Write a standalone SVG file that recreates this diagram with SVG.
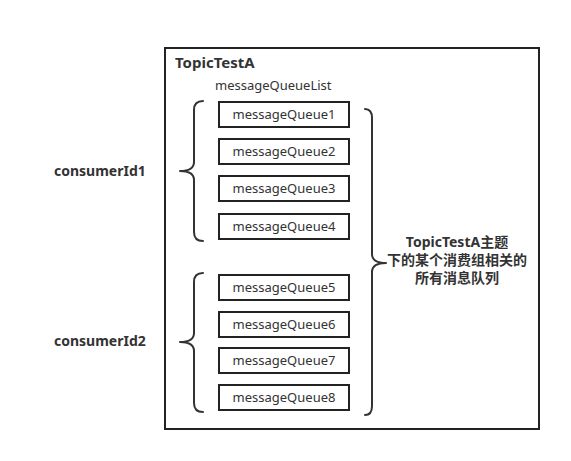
<svg xmlns="http://www.w3.org/2000/svg" width="571" height="461" viewBox="0 0 571 461">
<style>
.bg{fill:#fff}
.frame{fill:#fff;stroke:#222;stroke-width:2}
.box{fill:#fff;stroke:#222;stroke-width:2}
.brace{fill:none;stroke:#333;stroke-width:2;stroke-linejoin:round;stroke-linecap:round}
.t{font-family:"Noto Sans","Noto Sans CJK SC",sans-serif;fill:#333}
.q{font-size:13px;text-anchor:middle}
.b{font-weight:bold}
</style>
<rect class="bg" x="0" y="0" width="571" height="461"/>
<g id="topic">
<rect class="frame" x="165" y="48" width="374" height="381"/>
<text class="t b" x="175" y="68" font-size="15">TopicTestA</text>
<text class="t" x="215" y="90" font-size="13">messageQueueList</text>
</g>
<g id="mq1"><rect class="box" x="219" y="102" width="130" height="25"/><text class="t q" x="284" y="119">messageQueue1</text></g>
<g id="mq2"><rect class="box" x="219" y="139" width="130" height="25"/><text class="t q" x="284" y="156">messageQueue2</text></g>
<g id="mq3"><rect class="box" x="219" y="176" width="130" height="25"/><text class="t q" x="284" y="193">messageQueue3</text></g>
<g id="mq4"><rect class="box" x="219" y="214" width="130" height="25"/><text class="t q" x="284" y="231">messageQueue4</text></g>
<g id="mq5"><rect class="box" x="219" y="275" width="130" height="25"/><text class="t q" x="284" y="292">messageQueue5</text></g>
<g id="mq6"><rect class="box" x="219" y="312" width="130" height="25"/><text class="t q" x="284" y="329">messageQueue6</text></g>
<g id="mq7"><rect class="box" x="219" y="348" width="130" height="25"/><text class="t q" x="284" y="365">messageQueue7</text></g>
<g id="mq8"><rect class="box" x="219" y="385" width="130" height="25"/><text class="t q" x="284" y="402">messageQueue8</text></g>
<g id="consumer1"><text class="t b" x="54" y="176" font-size="14">consumerId1</text></g>
<g id="consumer2"><text class="t b" x="54" y="346" font-size="14">consumerId2</text></g>
<g id="note">
<text class="t b" font-size="14" text-anchor="middle" x="457" y="247">TopicTestA主题</text>
<text class="t b" font-size="14" text-anchor="middle" x="457" y="265">下的某个消费组相关的</text>
<text class="t b" font-size="14" text-anchor="middle" x="457" y="283">所有消息队列</text>
</g>
<g id="connectors">
<path class="brace" d="M203,101 Q194,101 194,110 L194,162 Q194,171 180,171 Q194,171 194,180 L194,232 Q194,241 203,241"/>
<path class="brace" d="M203,273 Q194,273 194,282 L194,333 Q194,342 180,342 Q194,342 194,351 L194,403 Q194,412 203,412"/>
<path class="brace" d="M365,109 Q372,109 372,118 L372,254 Q372,263 386,263 Q372,263 372,272 L372,406 Q372,415 365,415"/>
</g>
</svg>
